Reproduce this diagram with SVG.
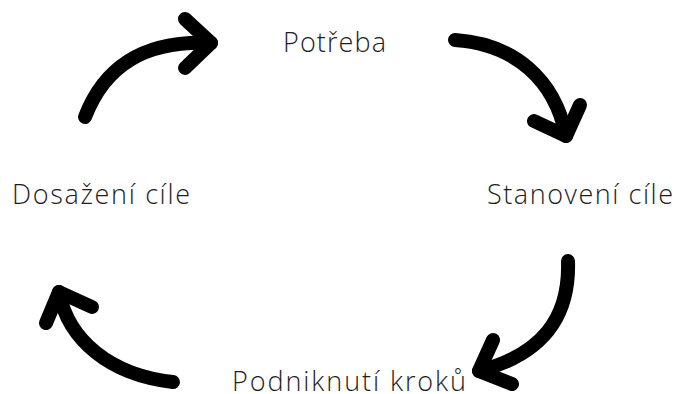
<svg xmlns="http://www.w3.org/2000/svg" width="677" height="394" viewBox="0 0 677 394">
<style>
.lbl{font-family:"Open Sans","Noto Sans","DejaVu Sans",sans-serif;font-size:27px;fill:#1e1e1e;font-weight:300}
.arr{fill:none;stroke:#000;stroke-width:14;stroke-linecap:round;stroke-linejoin:round}
</style>
<rect width="677" height="394" fill="#fff"/>
<g id="connectors">
<path class="arr" d="M85,117 C105,65 145,40 211,43"/>
<path class="arr" d="M185,19 L211,43 L185,68"/>
<path class="arr" d="M455,40 C515,44 555,80 566,136"/>
<path class="arr" d="M534,121 L566,136 L580,105"/>
<path class="arr" d="M568,261 C570,320 540,355 479,371"/>
<path class="arr" d="M493,340 L479,371 L512,384"/>
<path class="arr" d="M173,382 C110,375 68,340 59,292"/>
<path class="arr" d="M46,323 L59,292 L92,307"/>
</g>
<g id="n-potreba"><text class="lbl" x="283" y="52" textLength="103" lengthAdjust="spacing">Potřeba</text></g>
<g id="n-stanoveni"><text class="lbl" x="487" y="204" textLength="186" lengthAdjust="spacing">Stanovení cíle</text></g>
<g id="n-podniknuti"><text class="lbl" x="232" y="391" textLength="234" lengthAdjust="spacing">Podniknutí kroků</text></g>
<g id="n-dosazeni"><text class="lbl" x="12" y="204" textLength="178" lengthAdjust="spacing">Dosažení cíle</text></g>
</svg>
